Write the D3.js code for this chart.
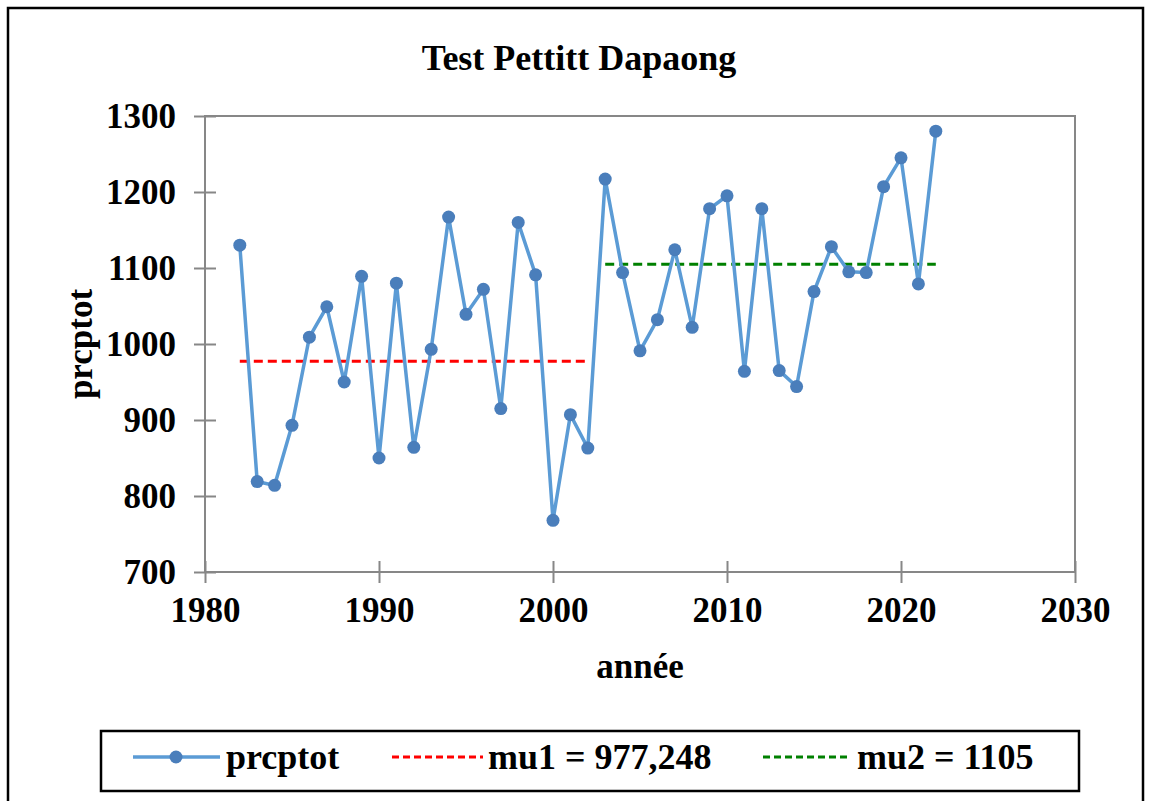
<!DOCTYPE html>
<html>
<head>
<meta charset="utf-8">
<script src="https://cdn.jsdelivr.net/npm/d3@7"></script>
<style>
  body { margin: 0; background: #fff; }
  text { font-family: "Liberation Serif", "Times New Roman", serif; font-weight: bold; fill: #000; }
</style>
</head>
<body>
<svg id="chart" width="1149" height="801"></svg>
<script>
// data
var years = [1982,1983,1984,1985,1986,1987,1988,1989,1990,1991,1992,1993,1994,1995,1996,1997,1998,1999,2000,2001,
             2002,2003,2004,2005,2006,2007,2008,2009,2010,2011,2012,2013,2014,2015,2016,2017,2018,2019,2020,2021,2022];
var prcptot = [1130,819,814,893,1009,1049,950,1089,850,1080,864,993,1167,1039,1072,915,1160,1091,768,907,
               863,1217,1094,991,1032,1124,1022,1178,1195,964,1178,965,944,1069,1128,1095,1094,1207,1245,1079,1280];
var mu1 = {value: 977.248, from: 1982, to: 2002, label: "mu1 = 977,248"};
var mu2 = {value: 1105, from: 2003, to: 2022, label: "mu2 = 1105"};
var xTicks = [1980,1990,2000,2010,2020,2030];
var yTicks = [700,800,900,1000,1100,1200,1300];

var svg = d3.select("#chart");
var plot = {left: 205, right: 1075, top: 116, bottom: 572};
var fs = "35px";

var x = d3.scaleLinear().domain([1980, 2030]).range([plot.left, plot.right]);
var y = d3.scaleLinear().domain([700, 1300]).range([plot.bottom, plot.top]);

// outer frame
svg.append("rect").attr("x", 8).attr("y", 8).attr("width", 1135).attr("height", 810)
  .attr("fill", "none").attr("stroke", "#000").attr("stroke-width", 2.5);

// title
svg.append("text").attr("x", 579).attr("y", 70).attr("text-anchor", "middle")
  .style("font-size", "36px").text("Test Pettitt Dapaong");

// plot border
svg.append("rect").attr("x", plot.left).attr("y", plot.top)
  .attr("width", plot.right - plot.left).attr("height", plot.bottom - plot.top)
  .attr("fill", "none").attr("stroke", "#878787").attr("stroke-width", 2);

// axes (ticks crossing the axis line)
var yAxis = svg.append("g").attr("transform", "translate(" + plot.left + ",0)")
  .call(d3.axisLeft(y).tickValues(yTicks).tickFormat(d3.format("d")).tickSizeInner(11).tickSizeOuter(0).tickPadding(18));
yAxis.selectAll(".tick line").attr("x2", 11).attr("x1", -11);
var xAxis = svg.append("g").attr("transform", "translate(0," + plot.bottom + ")")
  .call(d3.axisBottom(x).tickValues(xTicks).tickFormat(d3.format("d")).tickSizeInner(11).tickSizeOuter(0).tickPadding(14));
xAxis.selectAll(".tick line").attr("y1", -11).attr("y2", 11);
svg.selectAll(".domain").remove();
svg.selectAll(".tick line").attr("stroke", "#878787").attr("stroke-width", 2);
svg.selectAll(".tick text").style("font-size", fs)
  .style("font-family", "'Liberation Serif', serif").style("font-weight", "bold").attr("fill", "#000");
yAxis.selectAll(".tick text").attr("dy", "0.34em");

// axis titles
svg.append("text").attr("x", 640).attr("y", 678).attr("text-anchor", "middle")
  .style("font-size", fs).text("année");
svg.append("text").attr("transform", "translate(92," + ((plot.top + plot.bottom) / 2) + ") rotate(-90)")
  .attr("text-anchor", "middle").style("font-size", fs).text("prcptot");

// mean lines
[[mu1, "#ff0000"], [mu2, "#008000"]].forEach(function(m) {
  svg.append("line")
    .attr("x1", x(m[0].from)).attr("x2", x(m[0].to))
    .attr("y1", y(m[0].value)).attr("y2", y(m[0].value))
    .attr("stroke", m[1]).attr("stroke-width", 3).attr("stroke-dasharray", "9,5");
});

// series
var pts = years.map(function(yr, i) { return {year: yr, v: prcptot[i]}; });
svg.append("path").datum(pts)
  .attr("fill", "none").attr("stroke", "#5b9bd5").attr("stroke-width", 3.5)
  .attr("d", d3.line().x(function(d) { return x(d.year); }).y(function(d) { return y(d.v); }));
svg.append("g").selectAll("circle").data(pts).enter().append("circle")
  .attr("cx", function(d) { return x(d.year); })
  .attr("cy", function(d) { return y(d.v); })
  .attr("r", 6.5).attr("fill", "#4a7ebb");

// legend
var leg = svg.append("g");
leg.append("rect").attr("x", 101).attr("y", 731).attr("width", 978).attr("height", 60)
  .attr("fill", "#fff").attr("stroke", "#000").attr("stroke-width", 2.5);
leg.append("line").attr("x1", 133).attr("x2", 220).attr("y1", 757).attr("y2", 757)
  .attr("stroke", "#5b9bd5").attr("stroke-width", 3.5);
leg.append("circle").attr("cx", 176).attr("cy", 757).attr("r", 6.5).attr("fill", "#4a7ebb");
leg.append("text").attr("x", 226).attr("y", 769).style("font-size", "36px").text("prcptot");
leg.append("line").attr("x1", 392).attr("x2", 483).attr("y1", 757).attr("y2", 757)
  .attr("stroke", "#ff0000").attr("stroke-width", 3).attr("stroke-dasharray", "7,4");
leg.append("text").attr("x", 488).attr("y", 769).style("font-size", "36px").text(mu1.label);
leg.append("line").attr("x1", 763).attr("x2", 851).attr("y1", 757).attr("y2", 757)
  .attr("stroke", "#008000").attr("stroke-width", 3).attr("stroke-dasharray", "7,4");
leg.append("text").attr("x", 857).attr("y", 769).style("font-size", "36px").text(mu2.label);
</script>
</body>
</html>
